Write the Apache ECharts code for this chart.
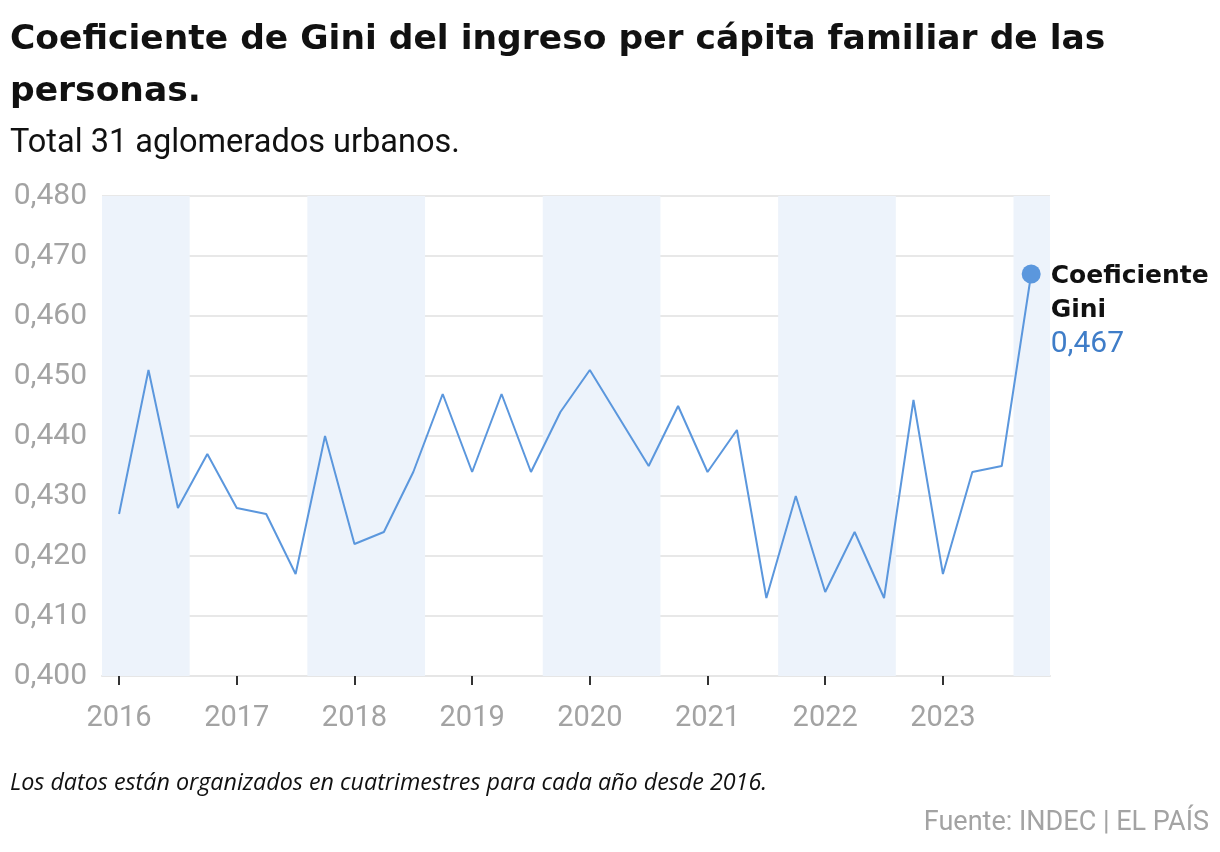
<!DOCTYPE html>
<html>
<head>
<meta charset="utf-8">
<title>Coeficiente de Gini</title>
<script src="https://cdn.jsdelivr.net/npm/echarts@6/dist/echarts.min.js"></script>
<style>
  html, body { margin: 0; padding: 0; background: #fff; }
  #main { width: 1220px; height: 852px; }
</style>
</head>
<body>
<div id="main"></div>
<script>
// periodos trimestrales (año + fraccion)
let periodos = [
  2016, 2016.25, 2016.5, 2016.75,
  2017, 2017.25, 2017.5, 2017.75,
  2018, 2018.25, 2018.5, 2018.75,
  2019, 2019.25, 2019.5, 2019.75,
  2020, 2020.25, 2020.5, 2020.75,
  2021, 2021.25, 2021.5, 2021.75,
  2022, 2022.25, 2022.5, 2022.75,
  2023, 2023.25, 2023.5, 2023.75
];
let gini = [
  0.427, 0.451, 0.428, 0.437,
  0.428, 0.427, 0.417, 0.440,
  0.422, 0.424, 0.434, 0.447,
  0.434, 0.447, 0.434, 0.444,
  0.451, 0.443, 0.435, 0.445,
  0.434, 0.441, 0.413, 0.430,
  0.414, 0.424, 0.413, 0.446,
  0.417, 0.434, 0.435, 0.467
];
let anios = [2016, 2017, 2018, 2019, 2020, 2021, 2022, 2023];
// franjas sombreadas [inicio, fin]
let franjas = [
  [2015.855, 2016.6],
  [2017.6, 2018.6],
  [2019.6, 2020.6],
  [2021.6, 2022.6],
  [2023.6, 2023.91]
];

let coma = function(v){ return v.toFixed(3).replace('.', ','); };

let serie = periodos.map(function(p, i){ return [p, gini[i]]; });
let ultimo = serie.length - 1;

let chart = echarts.init(document.getElementById('main'));
let option = {
  backgroundColor: '#fff',
  animation: false,
  textStyle: { fontFamily: 'Roboto' },
  title: [
    {
      text: 'Coeficiente de Gini del ingreso per cápita familiar de las\npersonas.',
      left: 5, top: 9,
      textStyle: { fontFamily: 'DejaVu Sans', fontWeight: 'bold', fontSize: 34.5, lineHeight: 52, color: '#111' }
    },
    {
      text: 'Total 31 aglomerados urbanos.',
      left: 5, top: 122,
      textStyle: { fontFamily: 'Roboto', fontWeight: 'normal', fontSize: 32.5, lineHeight: 34, color: '#111' }
    },
    {
      text: 'Los datos están organizados en cuatrimestres para cada año desde 2016.',
      left: 5, top: 765,
      textStyle: { fontFamily: 'Open Sans', fontWeight: 'normal', fontStyle: 'italic', fontSize: 23.3, lineHeight: 27, color: '#111' }
    },
    {
      text: 'Fuente: INDEC | EL PAÍS',
      right: 6, top: 803,
      textStyle: { fontFamily: 'Roboto', fontWeight: 'normal', fontSize: 27, lineHeight: 30, color: '#a3a3a3' }
    }
  ],
  grid: { left: 102, right: 170, top: 196, bottom: 176, containLabel: false },
  xAxis: {
    type: 'value',
    min: 2015.855,
    max: 2023.91,
    axisLine: { show: true, lineStyle: { color: '#e6e6e6', width: 2 } },
    axisTick: { show: true, customValues: anios, length: 9, lineStyle: { color: '#333', width: 2 } },
    axisLabel: {
      customValues: anios,
      margin: 28,
      fontSize: 29,
      color: '#a3a3a3',
      formatter: function(v){ return String(Math.round(v)); }
    },
    splitLine: { show: false }
  },
  yAxis: {
    type: 'value',
    min: 0.40,
    max: 0.48,
    interval: 0.01,
    axisLine: { show: false },
    axisTick: { show: false },
    axisLabel: { margin: 15, fontSize: 30, color: '#a3a3a3', formatter: coma },
    splitLine: { lineStyle: { color: '#e8e8e8', width: 2 } }
  },
  series: [
    {
      type: 'line',
      data: serie.map(function(d, i){
        if (i === ultimo) {
          return {
            value: d,
            symbol: 'circle',
            symbolSize: 19,
            itemStyle: { color: '#5b97dd' },
            label: {
              show: true,
              position: [29, -5],
              align: 'left',
              verticalAlign: 'top',
              formatter: '{t|Coeficiente}\n{t|Gini}\n{v|' + coma(d[1]) + '}',
              rich: {
                t: { fontFamily: 'DejaVu Sans', fontWeight: 'bold', fontSize: 25, lineHeight: 34, color: '#111' },
                v: { fontFamily: 'Roboto', fontSize: 30, lineHeight: 34, color: '#3f7dc8' }
              }
            }
          };
        }
        return { value: d, symbol: 'none' };
      }),
      showSymbol: true,
      lineStyle: { color: '#5b97dd', width: 2 },
      itemStyle: { color: '#5b97dd' },
      markArea: {
        silent: true,
        itemStyle: { color: '#edf3fb' },
        data: franjas.map(function(f){ return [{ xAxis: f[0] }, { xAxis: f[1] }]; })
      },
      z: 3
    }
  ]
};
chart.setOption(option);
</script>
</body>
</html>
